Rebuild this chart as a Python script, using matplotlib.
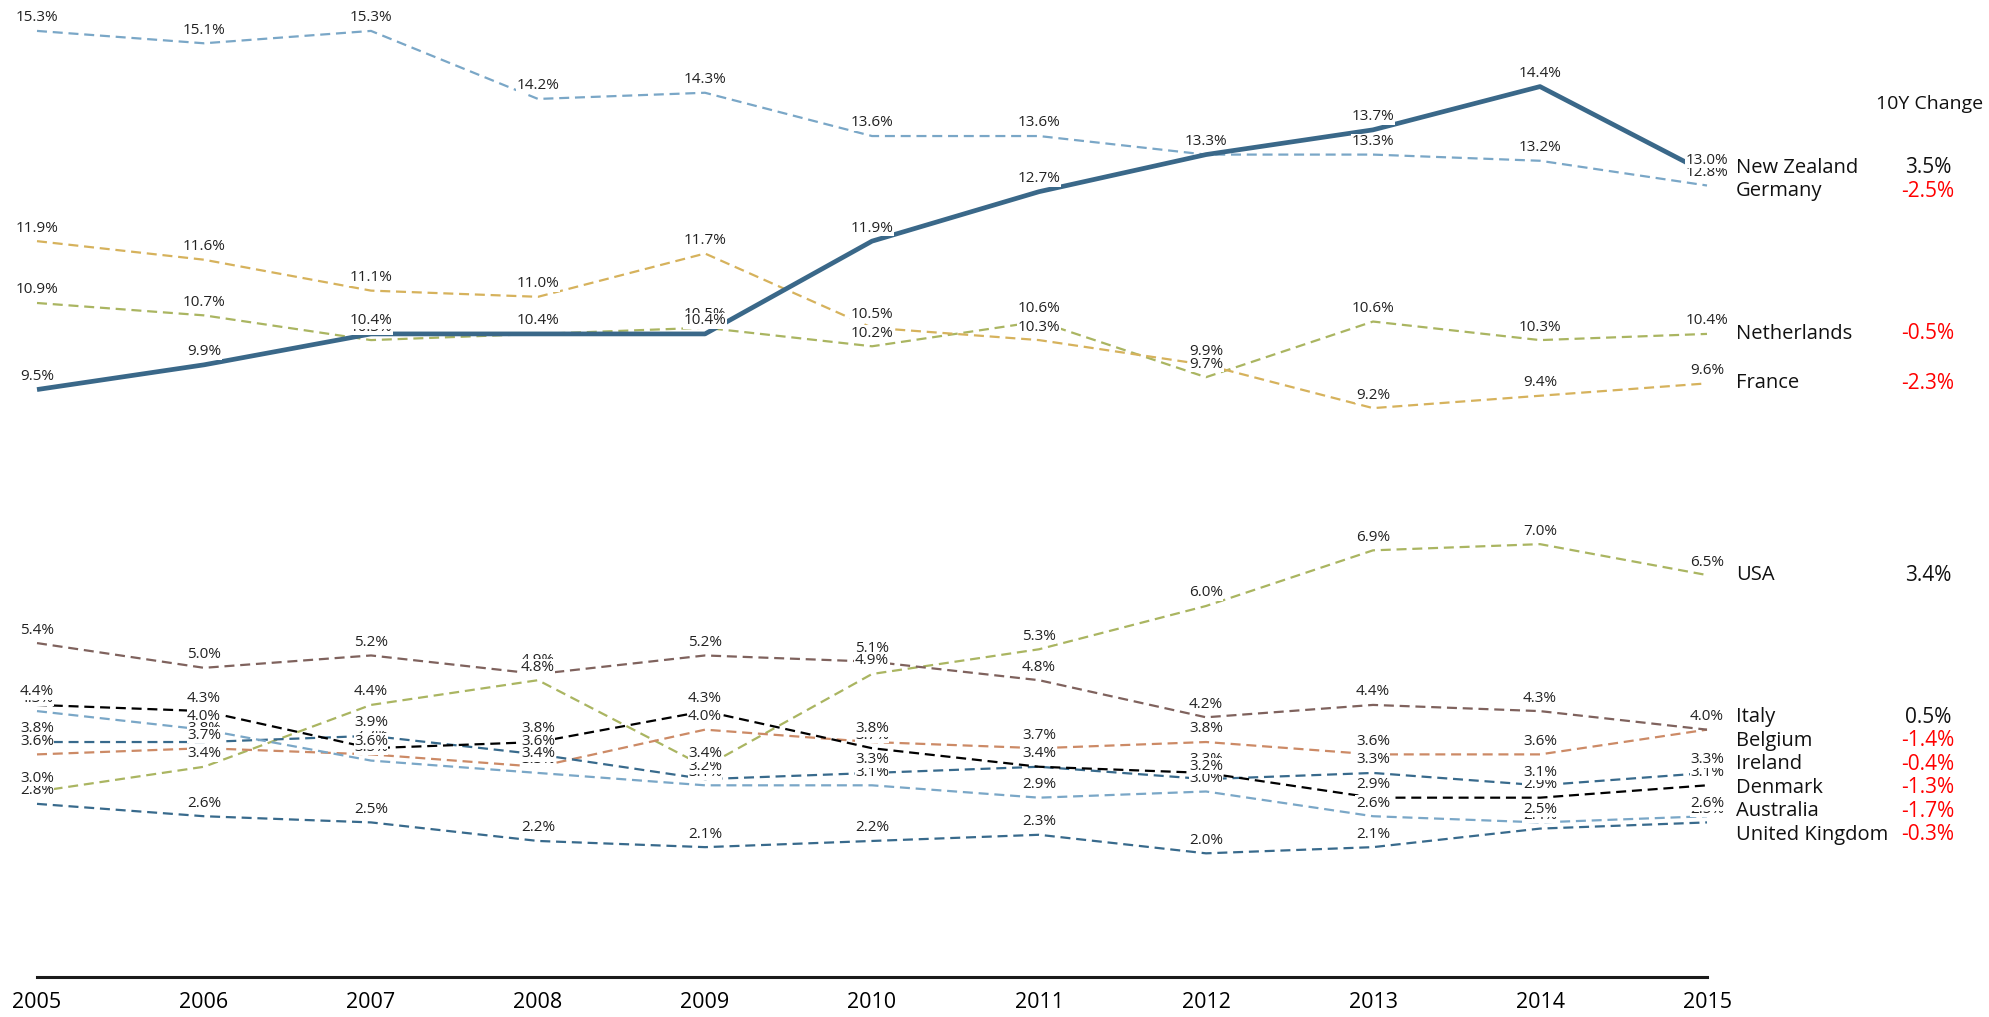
import matplotlib
matplotlib.use("Agg")
import matplotlib.pyplot as plt
import matplotlib.transforms as mtransforms

years = list(range(2005, 2016))

countries = ["New Zealand", "Germany", "Netherlands", "France", "USA", "Italy",
             "Belgium", "Ireland", "Denmark", "Australia", "United Kingdom"]

new_zealand = [9.5, 9.9, 10.4, 10.4, 10.4, 11.9, 12.7, 13.3, 13.7, 14.4, 13.0]
germany = [15.3, 15.1, 15.3, 14.2, 14.3, 13.6, 13.6, 13.3, 13.3, 13.2, 12.8]
netherlands = [10.9, 10.7, 10.3, 10.4, 10.5, 10.2, 10.6, 9.7, 10.6, 10.3, 10.4]
france = [11.9, 11.6, 11.1, 11.0, 11.7, 10.5, 10.3, 9.9, 9.2, 9.4, 9.6]
usa = [3.0, 3.4, 4.4, 4.8, 3.4, 4.9, 5.3, 6.0, 6.9, 7.0, 6.5]
italy = [3.6, 3.7, 3.6, 3.4, 4.0, 3.8, 3.7, 3.8, 3.6, 3.6, 4.0]
belgium = [5.4, 5.0, 5.2, 4.9, 5.2, 5.1, 4.8, 4.2, 4.4, 4.3, 4.0]
ireland = [3.8, 3.8, 3.9, 3.6, 3.2, 3.3, 3.4, 3.2, 3.3, 3.1, 3.3]
denmark = [4.4, 4.3, 3.7, 3.8, 4.3, 3.7, 3.4, 3.3, 2.9, 2.9, 3.1]
australia = [4.3, 4.0, 3.5, 3.3, 3.1, 3.1, 2.9, 3.0, 2.6, 2.5, 2.6]
united_kingdom = [2.8, 2.6, 2.5, 2.2, 2.1, 2.2, 2.3, 2.0, 2.1, 2.4, 2.5]

change_10y = ["3.5%", "-2.5%", "-0.5%", "-2.3%", "3.4%", "0.5%",
              "-1.4%", "-0.4%", "-1.3%", "-1.7%", "-0.3%"]

series = [new_zealand, germany, netherlands, france, usa, italy,
          belgium, ireland, denmark, australia, united_kingdom]

colors = ["#3a6889", "#7aa7c7", "#aab561", "#d6b25c", "#aab561", "#cc8a66",
          "#7f625d", "#386a8c", "#000000", "#7aa7c7", "#386a8c"]

plt.rcParams["font.family"] = ["Open Sans", "DejaVu Sans"]


def spread(vals, gap):
    # push end labels apart so they don't overlap
    order = sorted(range(len(vals)), key=lambda i: -vals[i])
    pos = [vals[i] for i in order]
    for _ in range(500):
        moved = False
        for k in range(len(pos) - 1):
            d = pos[k] - pos[k + 1]
            if d < gap - 1e-9:
                s = (gap - d) / 2
                pos[k] += s
                pos[k + 1] -= s
                moved = True
        if not moved:
            break
    out = [0.0] * len(vals)
    for k, i in enumerate(order):
        out[i] = pos[k]
    return out


fig = plt.figure(figsize=(19.9, 10.17), dpi=100)
ax = fig.add_axes([37 / 1990, 40 / 1017, (1707 - 37) / 1990, 977 / 1017])
ax.set_xlim(2005, 2015)
ax.set_ylim(0, 15.8)

# dashed lines first, solid NZ line on top
for vals, col, name in zip(series[1:], colors[1:], countries[1:]):
    ax.plot(years, vals, color=col, lw=1.6, dashes=(4.5, 2.6), zorder=2,
            clip_on=False, label=name)
ax.plot(years, new_zealand, color=colors[0], lw=3.4, zorder=3,
        solid_capstyle="butt", clip_on=False, label=countries[0])

# point labels
for vals in series[::-1]:
    for x, v in zip(years, vals):
        ax.annotate(f"{v:.1f}%", (x, v), xytext=(0, 4), textcoords="offset points",
                    ha="center", va="bottom", fontsize=11, color="#222222",
                    zorder=5, annotation_clip=False,
                    bbox=dict(facecolor="white", edgecolor="none", pad=0.3))

# end labels + 10Y change column
trans = mtransforms.blended_transform_factory(fig.transFigure, ax.transData)
ends = [s[-1] for s in series]
label_y = spread(ends, 0.38)
for name, y, chg in zip(countries, label_y, change_10y):
    ax.text(1736 / 1990, y, name, transform=trans, ha="left", va="center",
            fontsize=14.5, color="#111111")
    ax.text(1928 / 1990, y, chg, transform=trans, ha="center", va="center",
            fontsize=15, color="red" if chg.startswith("-") else "#111111")
fig.text(1930 / 1990, 1 - 104 / 1017, "10Y Change", ha="center", va="center",
         fontsize=14, color="#111111")

for side in ["left", "right", "top"]:
    ax.spines[side].set_visible(False)
ax.spines["bottom"].set_linewidth(2.2)
ax.spines["bottom"].set_color("#1a1a1a")
ax.set_yticks([])
ax.set_xticks(years)
ax.set_xticklabels([str(y) for y in years], fontsize=15.5)
ax.tick_params(axis="x", length=0, pad=11)

fig.savefig("out.png", dpi=100)
plt.close(fig)
